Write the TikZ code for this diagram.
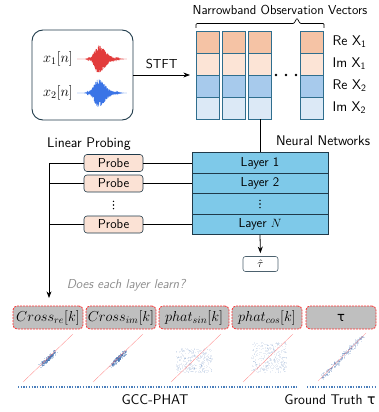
\documentclass[tikz,border=0pt]{standalone}
\usepackage{fontspec}
\newfontfamily\taufont{DejaVu Sans}
\usetikzlibrary{arrows.meta}

\definecolor{darkline}{HTML}{1F3A4A}
\definecolor{cellline}{HTML}{2F6E8E}
\definecolor{reone}{HTML}{F5C3A5}
\definecolor{imone}{HTML}{FCE4D6}
\definecolor{retwo}{HTML}{A7CAEC}
\definecolor{imtwo}{HTML}{DCE9F6}
\definecolor{nnblue}{HTML}{7EC9E9}
\definecolor{probefill}{HTML}{FBE2D5}
\definecolor{wavered}{HTML}{E23B3B}
\definecolor{waveblue}{HTML}{3A74E6}
\definecolor{scatblue}{HTML}{3F6FB0}
\definecolor{boxgray}{HTML}{BFBFBF}
\definecolor{dashred}{HTML}{FF3030}
\definecolor{dotblue}{HTML}{4A7EBB}

\begin{document}
\begin{tikzpicture}[x=1pt, y=-1pt, >=Stealth,
    every node/.style={font=\sffamily\fontsize{13}{15}\selectfont},
    cell/.style={draw=cellline, line width=0.6pt, minimum width=23.5pt, minimum height=22pt, inner sep=0pt},
    layer/.style={draw=darkline, fill=nnblue, line width=0.6pt, minimum width=136pt, minimum height=20.5pt, inner sep=0pt},
    probe/.style={draw=darkline, fill=probefill, rounded corners=3pt, line width=0.6pt, minimum width=59pt, minimum height=17pt, inner sep=0pt},
    feat/.style={draw=dashred, fill=boxgray, dash pattern=on 2pt off 1pt, rounded corners=4pt, line width=0.8pt, minimum width=70pt, minimum height=23pt, inner sep=0pt, font=\fontsize{14}{16}\selectfont},
    diag/.style={red!60, line width=0.3pt, opacity=0.8},
    big/.style={font=\sffamily\fontsize{14}{16}\selectfont},
    conn/.style={line width=0.8pt}]
        \useasboundingbox (0,0) rectangle (378,412);

        % Señales de entrada
        \node[draw=darkline, line width=0.9pt, rounded corners=11pt, minimum width=101pt, minimum height=90pt] (sig) at (82.5,75) {};
        \node[font=\fontsize{14}{16}\selectfont] (xone) at (58,59) {$x_1[n]$};
        \node[font=\fontsize{14}{16}\selectfont] (xtwo) at (58,93) {$x_2[n]$};
        \pgfmathsetseed{11}
        \draw[wavered, line width=0.4pt] plot[domain=0:1, samples=1400] ({77+50*\x}, {59+(\x<0.42 ? 14*exp(-((\x-0.42)/0.1)*((\x-0.42)/0.1)) : 14*exp(-((\x-0.42)/0.2)*((\x-0.42)/0.2)))*rand});
        \draw[waveblue, line width=0.4pt] plot[domain=0:1, samples=1400] ({77+50*\x}, {93+(\x<0.42 ? 14*exp(-((\x-0.42)/0.11)*((\x-0.42)/0.11)) : 14*exp(-((\x-0.42)/0.2)*((\x-0.42)/0.2)))*rand});

        % Vectores de observación
        \foreach \c/\cx in {1/208, 2/234, 3/260, 4/312}{
            \foreach \r/\ry/\col in {1/42/reone, 2/64/imone, 3/86/retwo, 4/108/imtwo}{
                \node[cell, fill=\col] (c\c-\r) at (\cx,\ry) {};
            }
        }
        \foreach \dx in {276,286,296} \fill (\dx,75) circle (1.3);
        \draw[line width=0.7pt, rounded corners=1pt] (196,28) -- (196,23.5) -- (294,23.5) -- (297,18) -- (300,23.5) -- (324,23.5) -- (324,28);
        \node (title) at (280,10) {Narrowband Observation Vectors};
        \node[big, anchor=west] (lab1) at (329,42) {Re X\textsubscript{1}};
        \node[big, anchor=west] (lab2) at (329,64) {Im X\textsubscript{1}};
        \node[big, anchor=west] (lab3) at (329,86) {Re X\textsubscript{2}};
        \node[big, anchor=west] (lab4) at (329,108) {Im X\textsubscript{2}};

        % STFT
        \coordinate (stftend) at (190,75);
        \draw[conn, ->] (sig.east) -- node[above=2pt] {STFT} (stftend);

        % Red neuronal
        \node[layer] (l1) at (260,163) {Layer 1};
        \node[layer] (l2) at (260,183.5) {Layer 2};
        \node[layer] (l3) at (260,204) {};
        \node[layer] (l4) at (260,224.5) {Layer $N$};
        \foreach \dy in {-3.6,0,3.6} \fill (l3.center) ++(0,\dy) circle (0.8);
        \node[big] (nnlab) at (323,141) {Neural Networks};
        \draw[conn] (c3-4.south) -- (l1.north);
        \node[draw=darkline!80, rounded corners=2.5pt, minimum width=35pt, minimum height=15pt, inner sep=0pt, line width=0.6pt, font=\fontsize{11}{12}\selectfont] (tauhat) at (260.5,264) {$\hat{\tau}$};
        \draw[conn, ->, shorten >=3pt] (l4.south) -- (tauhat.north);

        % Sondas lineales
        \node[big] (lp) at (89,144) {Linear Probing};
        \node[probe] (p1) at (113.5,163) {Probe};
        \node[probe] (p2) at (113.5,183.5) {Probe};
        \coordinate (pdots) at (113.5,205);
        \foreach \dy in {-3.6,0,3.6} \fill (pdots) ++(0,\dy) circle (0.8);
        \node[probe] (p3) at (113.5,224.5) {Probe};
        \draw[conn] (p1.east) -- (l1.west);
        \draw[conn] (p2.east) -- (l2.west);
        \draw[conn] (p3.east) -- (l4.west);
        \coordinate (bus1) at (49,163);
        \coordinate (bus2) at (49,183.5);
        \coordinate (bus3) at (49,224.5);
        \coordinate (busend) at (49,298);
        \draw[conn] (bus1) -- (p1.west);
        \draw[conn] (bus2) -- (p2.west);
        \draw[conn] (bus3) -- (p3.west);
        \draw[conn, ->] (bus1) -- (busend);
        \node[text=black!45, font=\sffamily\itshape\fontsize{13}{15}\selectfont] (ask) at (126,285) {Does each layer learn?};

        % Características
        \node[feat] (b1) at (48,317.5) {$Cross_{re}[k]$};
        \node[feat] (b2) at (121,317.5) {$Cross_{im}[k]$};
        \node[feat] (b3) at (194,317.5) {$phat_{sin}[k]$};
        \node[feat] (b4) at (267,317.5) {$phat_{cos}[k]$};
        \node[feat, font=\fontsize{13}{15}\selectfont] (b5) at (341,317.5) {\taufont τ};

        % Dispersión
        \foreach \ox in {23,93}{
            \foreach \i in {1,...,220}{
                \pgfmathsetmacro\u{0.5+0.09*(rand+rand)}
                \pgfmathsetmacro\v{1.0*(rand+rand)}
                \fill[scatblue, opacity=0.3] ({\ox+50*\u+\v},{382-48*\u+\v}) rectangle ++(1.2,1.2);
            }
            \draw[diag] (\ox,382) -- (\ox+50,334);
        }
        \foreach \cx/\cy/\hx/\hy in {194/360/18/12, 268.5/357/17.5/15}{
            \foreach \i in {1,...,320}{
                \fill[scatblue, opacity=0.12] ({\cx+\hx*rand},{\cy+\hy*rand}) rectangle ++(1.2,1.2);
            }
        }
        \draw[diag] (171,382) -- (221,334);
        \draw[diag] (243,382) -- (293,334);
        \foreach \i in {1,...,260}{
            \pgfmathsetmacro\u{0.5+0.45*rand}
            \pgfmathsetmacro\v{1.1*(rand+rand)}
            \fill[scatblue, opacity=0.2] ({318+47*\u+\v},{381-48*\u+\v}) rectangle ++(1.2,1.2);
        }
        \draw[diag] (318,381) -- (366,333);

        % Referencias
        \coordinate (gl) at (18,387);
        \coordinate (gr) at (298,387);
        \coordinate (tl) at (307,387);
        \coordinate (tr) at (377,387);
        \draw[dotblue, line width=1.4pt, dash pattern=on 1.3pt off 1.4pt] (gl) -- (gr);
        \draw[dotblue, line width=1.4pt, dash pattern=on 1.3pt off 1.4pt] (tl) -- (tr);
        \node[big] (gcc) at (155,400) {GCC-PHAT};
        \node[big] (gt) at (330,400) {Ground Truth {\taufont τ}};
\end{tikzpicture}
\end{document}
